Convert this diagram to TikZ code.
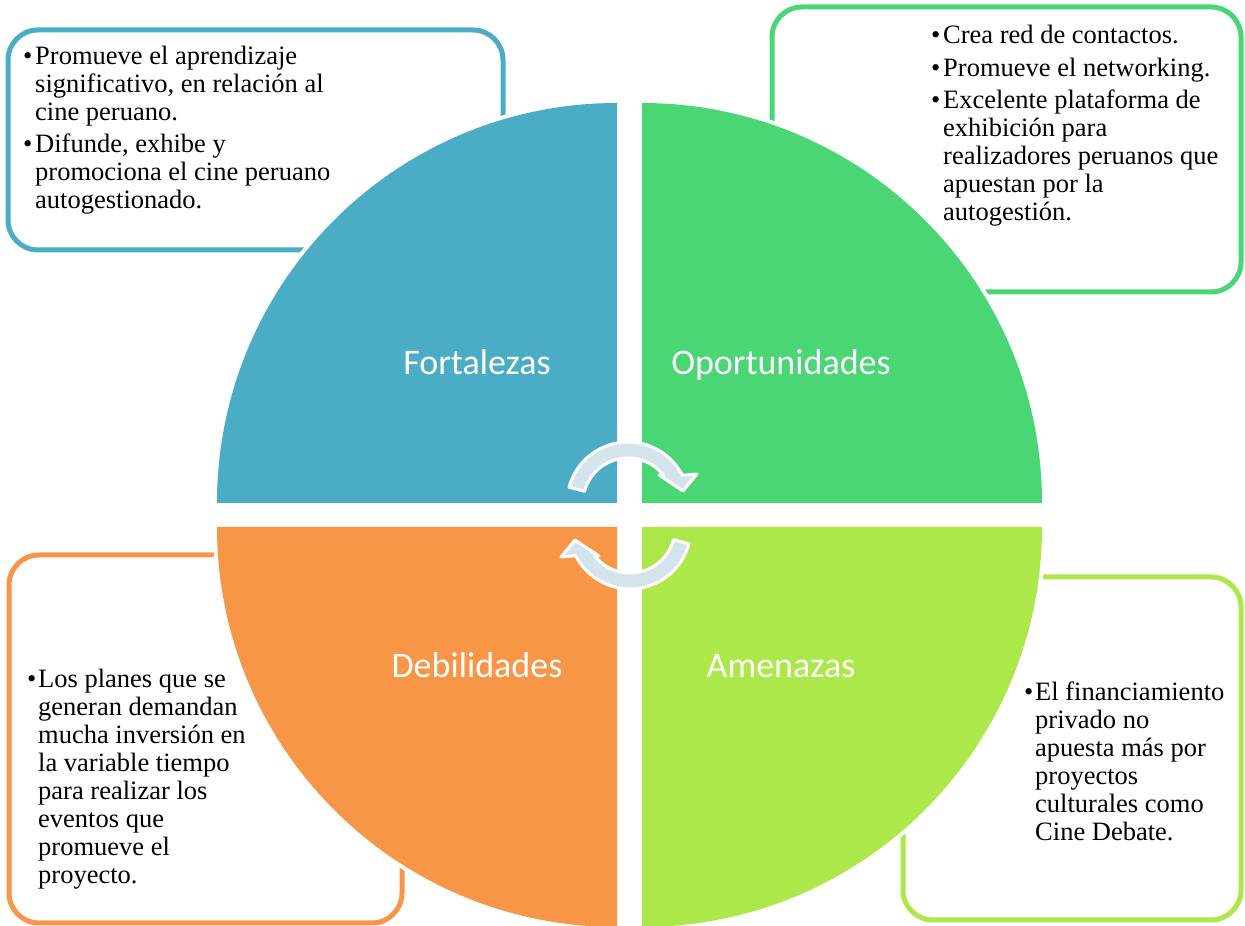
\documentclass[tikz,border=0pt]{standalone}
\usepackage{fontspec}
\setmainfont{Liberation Serif}
\newfontfamily\labfont{Carlito}
\definecolor{qblue}{HTML}{4BACC6}
\definecolor{qgreen}{HTML}{4AD675}
\definecolor{qorange}{HTML}{F79646}
\definecolor{qlime}{HTML}{ADE84A}
\definecolor{arrfill}{HTML}{D5E4EB}
\begin{document}
\begin{tikzpicture}[x=1pt,y=1pt,
  infobox/.style={draw=#1, line width=5pt, rounded corners=30pt, fill=white},
  quad/.style={fill=#1, preaction={draw=white, line width=8pt}},
  txt/.style={anchor=north west, inner sep=0pt, align=left, font=\fontsize{26.5}{28}\selectfont},
  bul/.style={anchor=north west, inner sep=0pt, font=\fontsize{26.5}{28}\selectfont},
  lab/.style={anchor=base, inner sep=0pt, text=white, font=\labfont\fontsize{36}{40}\selectfont},
  cycarrow/.style={fill=arrfill, draw=white, line width=3pt, line join=round}]
\useasboundingbox (0,0) rectangle (1245,926);
\fill[white] (0,0) rectangle (1245,926);
% text boxes
\draw[infobox=qblue] (8,676) rectangle (503,896);
\draw[infobox=qgreen] (772,634) rectangle (1241,919);
\draw[infobox=qorange] (9,3) rectangle (402,371);
\draw[infobox=qlime] (903,6) rectangle (1241,349);
% quadrants
\path[quad=qblue] (617,423) -- (217,423) arc[start angle=180, end angle=90, radius=400] -- cycle;
\path[quad=qgreen] (642,423) -- (642,823) arc[start angle=90, end angle=0, radius=400] -- cycle;
\path[quad=qorange] (617,399) -- (217,399) arc[start angle=180, end angle=270, radius=400] -- cycle;
\path[quad=qlime] (642,399) -- (1042,399) arc[start angle=0, end angle=-90, radius=400] -- cycle;
% quadrant labels
\node[lab] (fort) at (477,551) {Fortalezas};
\node[lab] (opor) at (781,551) {Oportunidades};
\node[lab] (debi) at (477,248) {Debilidades};
\node[lab] (amen) at (781,248) {Amenazas};
% cycle arrows
\begin{scope}[shift={(628,423)}]
\path[cycarrow] (165:61) arc[start angle=165, end angle=27, radius=61] -- (69,29) -- (55,12) -- (31,28) -- (38:45) arc[start angle=38, end angle=165, radius=45] -- cycle;
\end{scope}
\begin{scope}[rotate around={180:(629,410.5)}]
\begin{scope}[shift={(628,423)}]
\path[cycarrow] (165:61) arc[start angle=165, end angle=27, radius=61] -- (69,29) -- (55,12) -- (31,28) -- (38:45) arc[start angle=38, end angle=165, radius=45] -- cycle;
\end{scope}
\end{scope}
% Fortalezas text
\node[bul] (fb1) at (23,881.6) {\strut\textbullet};
\node[txt] (ft1) at (35,881.6) {\strut Promueve el aprendizaje\\significativo, en relación al\\cine peruano.};
\node[bul] (fb2) at (23,793.6) {\strut\textbullet};
\node[txt] (ft2) at (35,793.6) {\strut Difunde, exhibe y\\promociona el cine peruano\\autogestionado.};
% Oportunidades text
\node[bul] (ob1) at (931,902.6) {\strut\textbullet};
\node[txt] (ot1) at (943,902.6) {\strut Crea red de contactos.};
\node[bul] (ob2) at (931,869.6) {\strut\textbullet};
\node[txt] (ot2) at (943,869.6) {\strut Promueve el networking.};
\node[bul] (ob3) at (931,837.6) {\strut\textbullet};
\node[txt] (ot3) at (943,837.6) {\strut Excelente plataforma de\\exhibición para\\realizadores peruanos que\\apuestan por la\\autogestión.};
% Debilidades text
\node[bul] (db1) at (27,258.6) {\strut\textbullet};
\node[txt] (dt1) at (38,258.6) {\strut Los planes que se\\generan demandan\\mucha inversión en\\la variable tiempo\\para realizar los\\eventos que\\promueve el\\proyecto.};
% Amenazas text
\node[bul] (ab1) at (1024,245.6) {\strut\textbullet};
\node[txt] (at1) at (1035,245.6) {\strut El financiamiento\\privado no\\apuesta más por\\proyectos\\culturales como\\Cine Debate.};
\end{tikzpicture}
\end{document}
